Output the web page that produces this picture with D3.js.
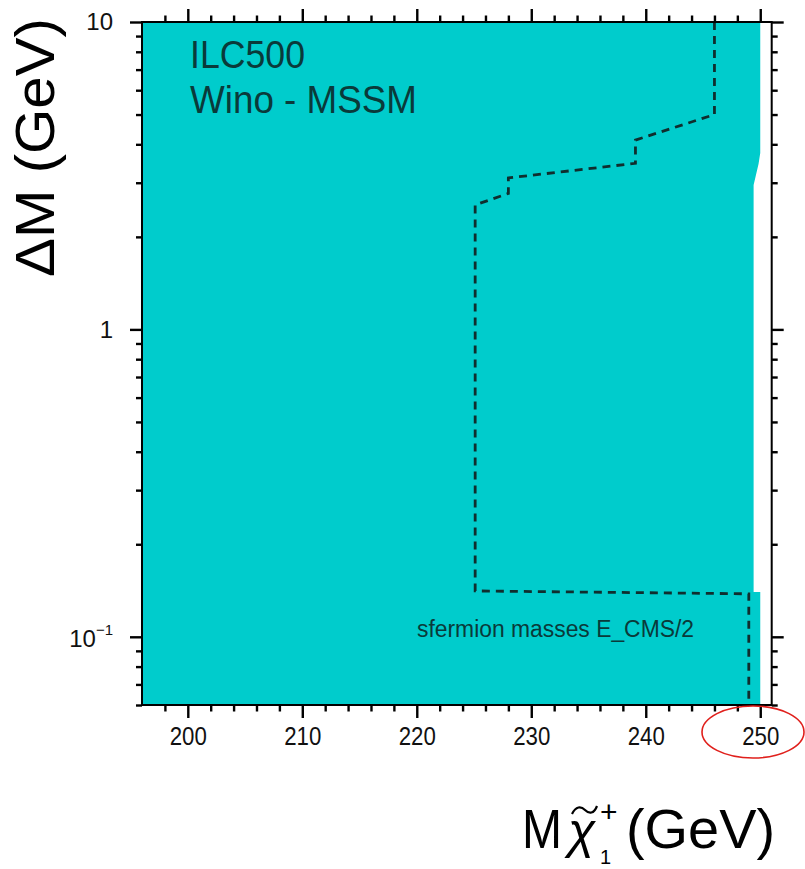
<!DOCTYPE html>
<html>
<head>
<meta charset="utf-8">
<script src="https://cdn.jsdelivr.net/npm/d3@7"></script>
<style>
  body { margin: 0; background: #fff; }
  svg { display: block; }
  text { font-family: "Liberation Sans", Arial, Helvetica, sans-serif; }
</style>
</head>
<body>
<svg id="chart" width="805" height="869"></svg>
<script>
// Axis domains: chargino mass (GeV) and mass splitting ΔM (GeV, log)
const massDomain = [196, 251];
const dmDomain = [0.06, 10];

// Tick values and labels
const xMajorTicks = [200, 210, 220, 230, 240, 250];
const xMinorTicks = [198, 202, 204, 206, 208, 212, 214, 216, 218, 222, 224, 226, 228,
                     232, 234, 236, 238, 242, 244, 246, 248];
const yMajorTicks = [0.1, 1, 10];
const yMajorLabels = ["10^-1", "1", "10"];
const yMinorTicks = [0.06, 0.07, 0.08, 0.09, 0.2, 0.3, 0.4, 0.5, 0.6, 0.7, 0.8, 0.9,
                     2, 3, 4, 5, 6, 7, 8, 9];

// Covered region (filled), outlined in the (mass, ΔM) plane
const regionMass = [196, 250.0, 250.0, 249.85, 249.6, 249.42, 249.42, 250.0, 250.0, 196];
const regionDM   = [10,  10,    3.75,  3.45,   3.15,  2.95,   0.14,   0.14,  0.06,  0.06];

// Dashed contour: sfermion masses at E_CMS/2
const contourMass = [246, 246, 239.1, 239.1, 228.0, 228.0, 225.1, 225.1, 249.0, 249.0];
const contourDM   = [10,  5.0, 4.13,  3.47,  3.11,  2.77,  2.54,  0.141, 0.138, 0.06];

const svg = d3.select("#chart");
const plotLeft = 142, plotRight = 771.7, plotTop = 22, plotBottom = 705;

const x = d3.scaleLinear().domain(massDomain).range([plotLeft, plotRight]);
const y = d3.scaleLog().domain(dmDomain).range([plotBottom, plotTop]);

const plot = svg.append("g");
plot.append("clipPath").attr("id", "frame-clip")
  .append("rect").attr("x", plotLeft).attr("y", plotTop)
  .attr("width", plotRight - plotLeft).attr("height", plotBottom - plotTop);

const line = d3.line().x(d => x(d[0])).y(d => y(d[1])).curve(d3.curveLinear);

// Filled region
plot.append("path")
  .attr("clip-path", "url(#frame-clip)")
  .attr("d", line(d3.zip(regionMass, regionDM)) + "Z")
  .attr("fill", "#00cccc");

// Dashed contour
plot.append("path")
  .attr("clip-path", "url(#frame-clip)")
  .attr("d", line(d3.zip(contourMass, contourDM)))
  .attr("fill", "none")
  .attr("stroke", "#102e2e")
  .attr("stroke-width", 2.8)
  .attr("stroke-dasharray", "8,6");

// Axes (ticks outward on all four sides)
function styleAxis(g) {
  g.select(".domain").remove();
  g.selectAll(".tick line").attr("stroke", "#000").attr("stroke-width", 2.4);
}

const fmtNone = () => "";

svg.append("g").attr("transform", `translate(0,${plotBottom})`)
  .call(d3.axisBottom(x).tickValues(xMinorTicks).tickSize(6.5).tickFormat(fmtNone))
  .call(styleAxis);
const xAxis = svg.append("g").attr("transform", `translate(0,${plotBottom})`)
  .call(d3.axisBottom(x).tickValues(xMajorTicks).tickSize(13).tickPadding(9).tickFormat(d3.format("d")))
  .call(styleAxis);
xAxis.selectAll(".tick text")
  .attr("font-size", 25).attr("fill", "#111")
  .attr("font-family", "'Liberation Sans', Arial, sans-serif")
  .attr("transform", "scale(0.89,1)");

svg.append("g").attr("transform", `translate(0,${plotTop})`)
  .call(d3.axisTop(x).tickValues(xMinorTicks).tickSize(6.5).tickFormat(fmtNone))
  .call(styleAxis);
svg.append("g").attr("transform", `translate(0,${plotTop})`)
  .call(d3.axisTop(x).tickValues(xMajorTicks).tickSize(13).tickFormat(fmtNone))
  .call(styleAxis);

svg.append("g").attr("transform", `translate(${plotLeft},0)`)
  .call(d3.axisLeft(y).tickValues(yMinorTicks).tickSize(6).tickFormat(fmtNone))
  .call(styleAxis);
const yAxis = svg.append("g").attr("transform", `translate(${plotLeft},0)`)
  .call(d3.axisLeft(y).tickValues(yMajorTicks).tickSize(12).tickPadding(17)
    .tickFormat(d => yMajorLabels[yMajorTicks.indexOf(d)]))
  .call(styleAxis);
yAxis.selectAll(".tick text")
  .attr("font-size", 24).attr("fill", "#111")
  .attr("font-family", "'Liberation Sans', Arial, sans-serif")
  .each(function(d) {
    const label = yMajorLabels[yMajorTicks.indexOf(d)];
    if (label.includes("^")) {
      const [base, exp] = label.split("^");
      const t = d3.select(this).text(null);
      t.append("tspan").text(base).attr("dy", "0.42em");
      t.append("tspan").text(exp.replace("-", "\u2212"))
        .attr("font-size", 15).attr("dy", "-0.85em");
    }
  });

svg.append("g").attr("transform", `translate(${plotRight},0)`)
  .call(d3.axisRight(y).tickValues(yMinorTicks).tickSize(6).tickFormat(fmtNone))
  .call(styleAxis);
svg.append("g").attr("transform", `translate(${plotRight},0)`)
  .call(d3.axisRight(y).tickValues(yMajorTicks).tickSize(12).tickFormat(fmtNone))
  .call(styleAxis);

// Frame
svg.append("rect")
  .attr("x", plotLeft).attr("y", plotTop)
  .attr("width", plotRight - plotLeft).attr("height", plotBottom - plotTop)
  .attr("fill", "none").attr("stroke", "#000").attr("stroke-width", 2);

// Annotations inside the plot
const noteColor = "#0a3a3a";
svg.append("text").attr("x", 190).attr("y", 68)
  .attr("font-size", 38).attr("fill", noteColor)
  .attr("textLength", 115).attr("lengthAdjust", "spacingAndGlyphs")
  .text("ILC500");
svg.append("text").attr("x", 190).attr("y", 113)
  .attr("font-size", 38).attr("fill", noteColor)
  .attr("textLength", 227).attr("lengthAdjust", "spacingAndGlyphs")
  .text("Wino - MSSM");
svg.append("text").attr("x", 417).attr("y", 637)
  .attr("font-size", 23).attr("fill", noteColor)
  .attr("textLength", 277).attr("lengthAdjust", "spacingAndGlyphs")
  .text("sfermion masses E_CMS/2");

// Y axis title
svg.append("text")
  .attr("transform", "translate(54,277) rotate(-90)")
  .attr("font-size", 56).attr("fill", "#000")
  .attr("textLength", 259).attr("lengthAdjust", "spacingAndGlyphs")
  .text("\u0394M (GeV)");

// X axis title: M, chi with tilde, sub/superscripts, (GeV)
const xt = svg.append("g").attr("fill", "#000");
xt.append("text").attr("x", 522).attr("y", 848).attr("font-size", 56)
  .attr("textLength", 40).attr("lengthAdjust", "spacingAndGlyphs").text("M");
xt.append("text").attr("x", 568).attr("y", 848).attr("font-size", 50)
  .attr("font-style", "italic").text("\u03c7");
// tilde accent over chi
xt.append("path")
  .attr("d", "M572,814 C576,806 581,806 585,810 C589,814 594,814 597,806")
  .attr("fill", "none").attr("stroke", "#000").attr("stroke-width", 2.2);
xt.append("text").attr("x", 600).attr("y", 822).attr("font-size", 30).text("+");
xt.append("text").attr("x", 600).attr("y", 864).attr("font-size", 20).text("1");
xt.append("text").attr("x", 626).attr("y", 848).attr("font-size", 56)
  .attr("textLength", 149).attr("lengthAdjust", "spacingAndGlyphs")
  .text("(GeV)");

// Highlight ring around the 250 GeV label
svg.append("ellipse")
  .attr("cx", 753).attr("cy", 732).attr("rx", 51).attr("ry", 26)
  .attr("fill", "none").attr("stroke", "#e0201c").attr("stroke-width", 1.6);
</script>
</body>
</html>
